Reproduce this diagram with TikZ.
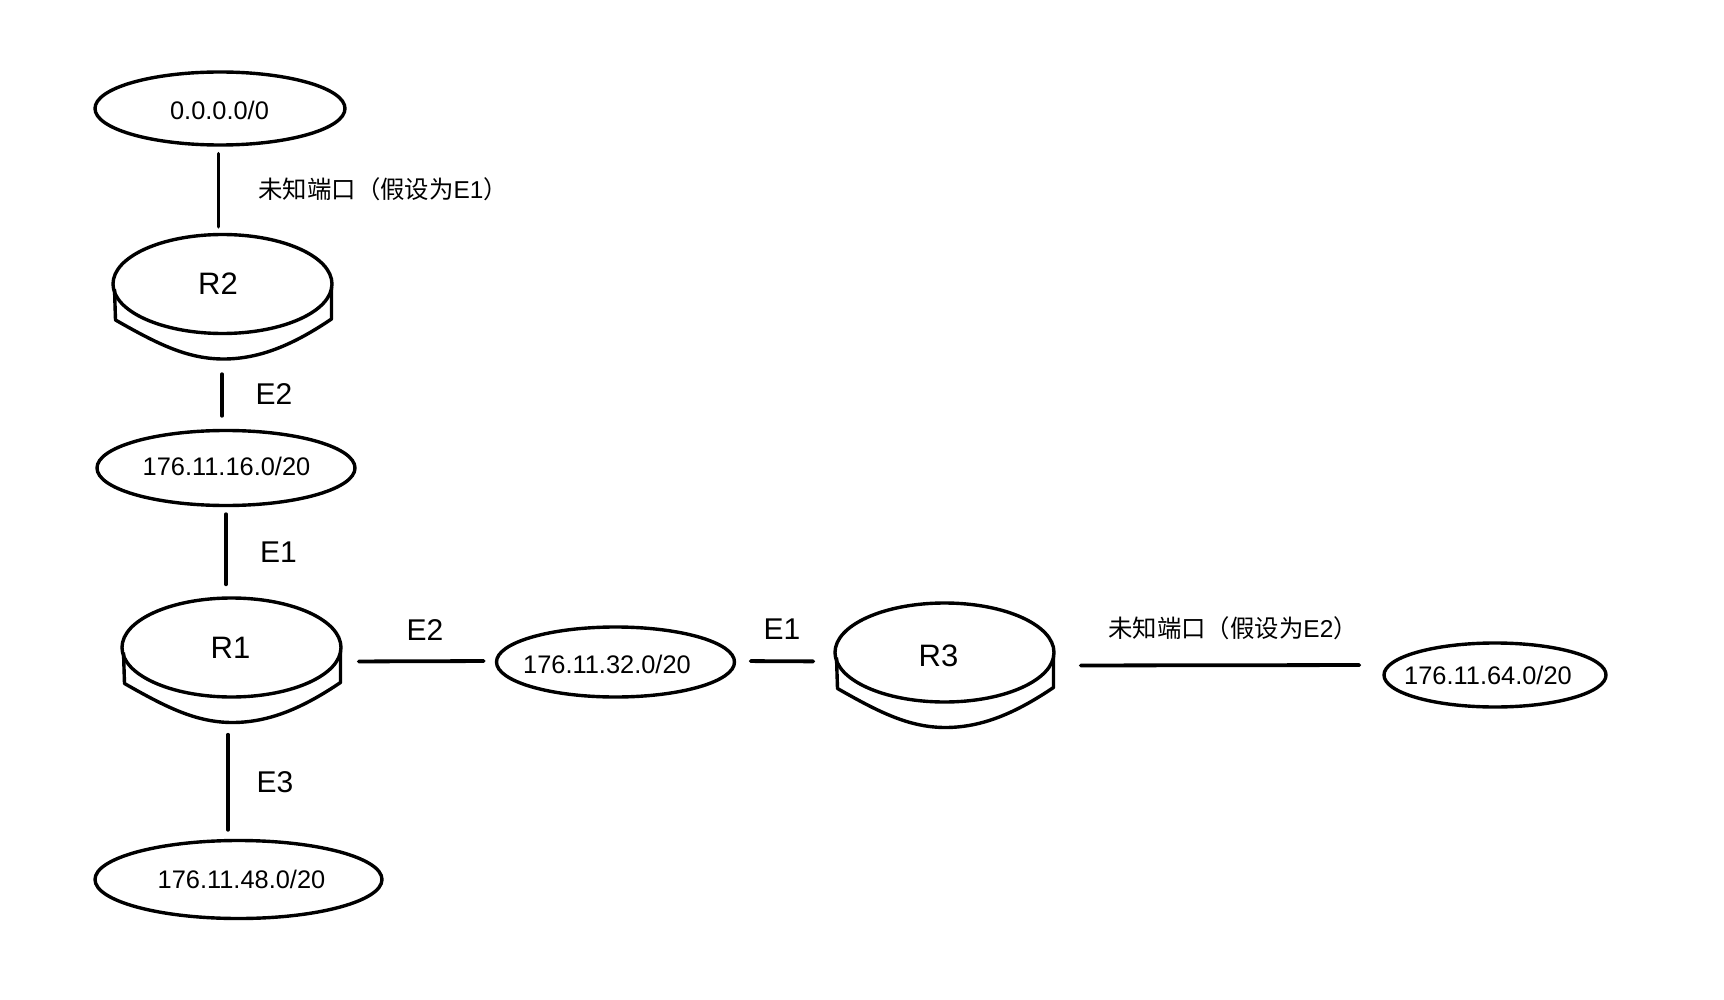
\documentclass[tikz,border=0pt]{standalone}
\usepackage{fontspec}
\setmainfont{Liberation Sans}
\newfontfamily\cjk{Noto Sans CJK SC}
\usetikzlibrary{shapes.geometric}

\begin{document}
\begin{tikzpicture}[
  x=0.5pt, y=-0.5pt,
  net/.style    = {draw, ellipse, line width=1.7pt, inner sep=0pt},
  router/.style = {draw, ellipse, line width=1.7pt, inner sep=0pt,
                   minimum width=109.5pt, minimum height=49.5pt},
  skirt/.style  = {line width=1.7pt, line join=round},
  lnk/.style    = {line width=1.9pt, line cap=round},
  nettxt/.style = {font=\fontsize{12.7}{14}\selectfont, inner sep=0pt},
  rttxt/.style  = {font=\fontsize{15.5}{18}\selectfont, inner sep=0pt},
  port/.style   = {font=\fontsize{15}{17}\selectfont, inner sep=0pt},
  portcn/.style = {font=\fontsize{12.2}{14}\selectfont, inner sep=0pt}
]
\useasboundingbox (0,0) rectangle (1724,1000);

%%%%%%%%%%%%%%%%%%%%%%% NETWORKS %%%%%%%%%%%%%%%%%%%%%%%
\node[net, minimum width=125pt,   minimum height=36.5pt] (net0)  at (220,108.5) {};
\node[net, minimum width=129pt,   minimum height=37.5pt] (net16) at (226,468) {};
\node[net, minimum width=119pt,   minimum height=35pt]   (net32) at (615.5,662) {};
\node[net, minimum width=143.5pt, minimum height=39pt]   (net48) at (238.5,879.5) {};
\node[net, minimum width=111pt,   minimum height=32pt]   (net64) at (1495,675) {};

\node[nettxt] (net0t)  at (219.5,110) {0.0.0.0/0};
\node[nettxt] (net16t) at (226.5,466) {176.11.16.0/20};
\node[nettxt] (net32t) at (607,664.5) {176.11.32.0/20};
\node[nettxt] (net48t) at (241.5,879) {176.11.48.0/20};
\node[nettxt] (net64t) at (1488,675)  {176.11.64.0/20};

%%%%%%%%%%%%%%%%%%%%%%% ROUTERS %%%%%%%%%%%%%%%%%%%%%%%%
\node[router] (r2) at (222.5,284) {};
\node[router] (r1) at (231.5,647.5) {};
\node[router] (r3) at (944.5,652.5) {};

\foreach \rt in {r1,r2,r3} {
  \draw[skirt, shift={(\rt)}] (-108,5) -- (-107,36)
        .. controls (-65,60) and (-35,75) .. (1,75)
        .. controls (38,75) and (72,60) .. (109,35) -- (109,3);
}

\node[rttxt] (r2t) at (218,283.5) {R2};
\node[rttxt] (r1t) at (230.5,647.5) {R1};
\node[rttxt] (r3t) at (938.5,656) {R3};

%%%%%%%%%%%%%%%%%%%%%%% LINKS %%%%%%%%%%%%%%%%%%%%%%%%%%
\draw[lnk, shorten <=3.5pt, shorten >=3pt]
      ([xshift=-0.75pt]net0.south) -- ([xshift=-2pt]r2.north);
\draw[lnk, shorten <=19.5pt, shorten >=6.5pt]
      ([xshift=-0.25pt]r2.south) -- ([xshift=-2pt]net16.north);
\draw[lnk, shorten <=3.5pt, shorten >=6pt]
      (net16.south) -- ([xshift=-2.75pt]r1.north);
\draw[lnk, shorten <=18pt, shorten >=4.5pt]
      ([xshift=-1.75pt]r1.south) -- ([xshift=-5.25pt]net48.north);
\draw[lnk, shorten <=8pt, shorten >=5.5pt]
      ([yshift=-7pt]r1.east) -- ([yshift=0.5pt]net32.west);
\draw[lnk, shorten <=7.25pt, shorten >=10pt]
      ([yshift=0.5pt]net32.east) -- ([yshift=-4.5pt]r3.west);
\draw[lnk, shorten <=12.5pt, shorten >=11.5pt]
      ([yshift=-6.5pt]r3.east) -- ([yshift=5pt]net64.west);

%%%%%%%%%%%%%%%%%%%%%%% PORT LABELS %%%%%%%%%%%%%%%%%%%%
\node[portcn, anchor=west] (lblr2up) at (258,189) {{\cjk 未知端口（假设为}E1{\cjk ）}};
\node[port] (lblr2e2) at (274,394) {E2};
\node[port] (lblr1e1) at (278.5,552) {E1};
\node[port] (lblr1e2) at (425,630) {E2};
\node[port] (lblr1e3) at (275,782) {E3};
\node[port] (lblr3e1) at (782,629) {E1};
\node[portcn] (lblr3e2) at (1233,628) {{\cjk 未知端口（假设为}E2{\cjk ）}};

\end{tikzpicture}
\end{document}
